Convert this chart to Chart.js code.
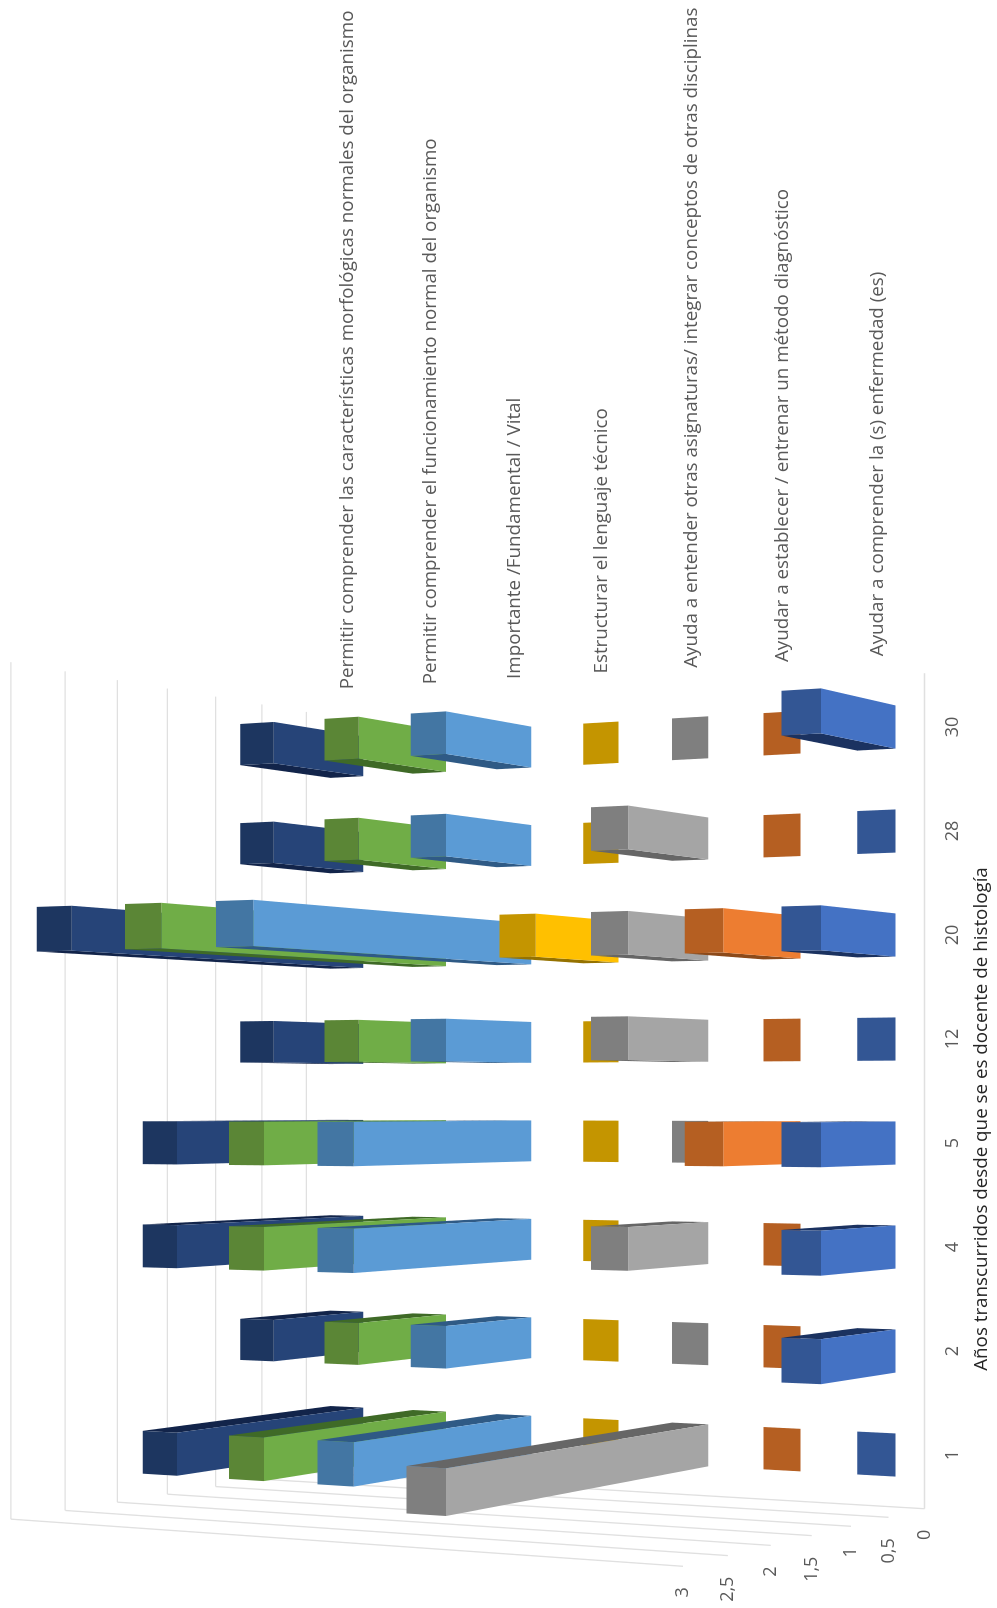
<!DOCTYPE html>
<html>
<head>
<meta charset="utf-8">
<title>Años transcurridos</title>
<script src="https://cdn.jsdelivr.net/npm/chart.js@4"></script>
<style>
html, body { margin: 0; padding: 0; background: #fff; overflow: hidden; }
/* the chart is laid out landscape and turned a quarter turn */
#wrap { position: absolute; left: 0; top: 0; width: 1608px; height: 997px;
        transform-origin: 0 0; transform: translateY(1608px) rotate(-90deg); }
</style>
</head>
<body>
<div id="wrap"><canvas id="grafico" width="1608" height="997"></canvas></div>
<script>
const years = ['1', '2', '4', '5', '12', '20', '28', '30'];

const axisTitle = 'Años transcurridos desde que se es docente de histología';

const serieLabels = [
    'Permitir comprender las características morfológicas normales del organismo',
    'Permitir comprender el funcionamiento normal del organismo',
    'Importante /Fundamental / Vital',
    'Estructurar el lenguaje técnico',
    'Ayuda a entender otras asignaturas/ integrar conceptos de otras disciplinas',
    'Ayudar a establecer / entrenar un método diagnóstico',
    'Ayudar a comprender la (s) enfermedad (es)'
];

const morfologia    = [2, 1, 2, 2, 1, 3, 1, 1];
const funcionamiento = [2, 1, 2, 2, 1, 3, 1, 1];
const importante    = [2, 1, 2, 2, 1, 3, 1, 1];
const lenguaje      = [0, 0, 0, 0, 0, 1, 0, 0];
const asignaturas   = [3, 0, 1, 0, 1, 1, 1, 0];
const diagnostico   = [0, 0, 0, 1, 0, 1, 0, 0];
const enfermedad    = [0, 1, 1, 1, 0, 1, 0, 1];

const valueTicks = [0, 0.5, 1, 1.5, 2, 2.5, 3];
const valueTickLabels = ['0', '0,5', '1', '1,5', '2', '2,5', '3'];

const allSeries = [morfologia, funcionamiento, importante, lenguaje, asignaturas, diagnostico, enfermedad];

// front, top and side face colours, back row first
const frontColors = ['#264478', '#70AD47', '#5B9BD5', '#FFC000', '#A5A5A5', '#ED7D31', '#4472C4'];
const capColors   = ['#1D3660', '#5B8636', '#4376A3', '#C49500', '#7F7F7F', '#B55F22', '#335694'];
const sideColors  = ['#12244A', '#3F6A27', '#2F5A85', '#957200', '#666666', '#8C4A1A', '#1B3260'];

// camera constants for the perspective of the floor and the walls
const cam = {
    centerX: 505.5,   // column that does not fan out
    baseY: 895.5,     // floor line of the front row
    rowStep: 83.6,    // px per row going back
    rise: 324.9,      // px for the full height of the value axis
    rowPersp: 0.0141,
    risePersp: 0.1236,
    barDepth: 0.4,
    floorFront: -0.3,
    floorBack: 6.7
};

// x, y are pixels of the chart's own scales, z is the depth in rows
function project(chart, x, y, z) {
    const sy = chart.scales.y;
    const f = (sy.bottom - y) / sy.height;
    const w = 1 + cam.rowPersp * z - cam.risePersp * f;
    return {
        x: cam.centerX + (x - cam.centerX) / w,
        y: (cam.baseY - cam.rowStep * z - cam.rise * f) / w
    };
}

function face(ctx, pts, color) {
    ctx.beginPath();
    pts.forEach((p, i) => i ? ctx.lineTo(p.x, p.y) : ctx.moveTo(p.x, p.y));
    ctx.closePath();
    ctx.fillStyle = color;
    ctx.fill();
}

function line(ctx, a, b) {
    ctx.beginPath();
    ctx.moveTo(a.x, a.y);
    ctx.lineTo(b.x, b.y);
    ctx.stroke();
}

const bars3d = {
    id: 'bars3d',
    beforeDatasetsDraw(chart) {
        const ctx = chart.ctx;
        const sx = chart.scales.x, sy = chart.scales.y;
        const L = sx.left, R = sx.right;

        // walls and floor edge
        ctx.save();
        ctx.strokeStyle = '#E0E0E0';
        ctx.lineWidth = 1.3;
        valueTicks.forEach(v => {
            const py = sy.getPixelForValue(v);
            line(ctx, project(chart, L, py, cam.floorBack), project(chart, R, py, cam.floorBack));
            line(ctx, project(chart, L, py, cam.floorBack), project(chart, L, py, cam.floorFront));
        });
        line(ctx, project(chart, L, sy.bottom, cam.floorFront), project(chart, R, sy.bottom, cam.floorFront));

        // value labels beside the side wall
        ctx.fillStyle = '#595959';
        ctx.font = '18px "Open Sans"';
        ctx.textAlign = 'right';
        ctx.textBaseline = 'middle';
        valueTicks.forEach((v, i) => {
            const p = project(chart, L, sy.getPixelForValue(v), cam.floorFront);
            ctx.fillText(valueTickLabels[i], p.x - 21, p.y);
        });

        // row names at the end of the floor
        ctx.textAlign = 'left';
        ctx.font = '18.8px "Open Sans"';
        chart.data.datasets.forEach((ds, i) => {
            const z = 6 - i;
            const p = project(chart, R, sy.bottom, z + cam.barDepth / 2);
            ctx.fillText(ds.label, p.x + 20, p.y + 1);
        });

        // axis name under the years
        ctx.textAlign = 'center';
        ctx.fillStyle = '#262626';
        ctx.fillText(axisTitle, 489, 982);

        // bars, back row first, outer columns before the centre ones
        chart.data.datasets.forEach((ds, i) => {
            const z = 6 - i;
            const z2 = z + cam.barDepth;
            const bars = chart.getDatasetMeta(i).data.slice()
                .sort((a, b) => Math.abs(b.x - cam.centerX) - Math.abs(a.x - cam.centerX));
            bars.forEach(bar => {
                const a = bar.x - bar.width / 2, b = bar.x + bar.width / 2;
                const top = bar.y, base = bar.base;
                if (base - top > 0.5) {
                    const inner = bar.x < cam.centerX ? b : a;
                    face(ctx, [project(chart, inner, base, z), project(chart, inner, top, z),
                               project(chart, inner, top, z2), project(chart, inner, base, z2)], sideColors[i]);
                    face(ctx, [project(chart, a, base, z), project(chart, b, base, z),
                               project(chart, b, top, z), project(chart, a, top, z)], frontColors[i]);
                }
                face(ctx, [project(chart, a, top, z), project(chart, b, top, z),
                           project(chart, b, top, z2), project(chart, a, top, z2)], capColors[i]);
            });
        });
        ctx.restore();
        return false;
    }
};

new Chart(document.getElementById('grafico'), {
    type: 'bar',
    data: {
        labels: years,
        datasets: allSeries.map((values, i) => ({
            label: serieLabels[i],
            data: values,
            backgroundColor: frontColors[i],
            grouped: false,
            categoryPercentage: 1,
            barPercentage: 0.415
        }))
    },
    options: {
        responsive: false,
        animation: false,
        layout: { padding: { left: 101, right: 675, top: 40, bottom: 0 } },
        plugins: { legend: { display: false }, tooltip: { enabled: false } },
        scales: {
            x: {
                grid: { display: false },
                border: { display: false },
                ticks: { color: '#595959', font: { family: 'Open Sans', size: 18 }, padding: 11, maxRotation: 0, autoSkip: false },
                afterFit(scale) { scale.height = 74; }
            },
            y: { display: false, min: 0, max: 3 }
        }
    },
    plugins: [bars3d]
});
</script>
</body>
</html>
